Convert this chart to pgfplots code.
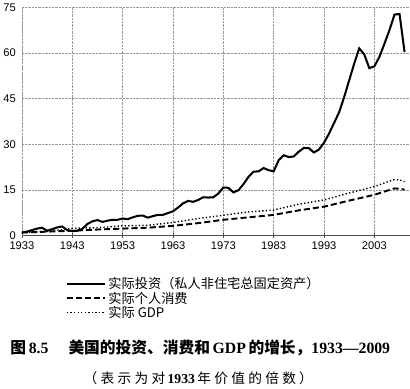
\documentclass[border=0pt]{standalone}
\usepackage{pgfplots}
\pgfplotsset{compat=1.18}
\usepackage{pgfplotstable}
\usepackage{fontspec}
\setmainfont{Liberation Sans}
\newfontfamily\cjk{Noto Sans CJK SC}
\newfontfamily\cjksp{Noto Sans CJK SC}[LetterSpace=24]
\newfontfamily\serifb{Liberation Serif}

\pgfplotstableread{
year val
1933 1.0
1934 1.3
1935 1.8
1936 2.3
1937 2.6
1938 1.6
1939 2.1
1940 2.7
1941 3.0
1942 1.8
1943 1.5
1944 1.6
1945 2.2
1946 3.8
1947 4.7
1948 5.1
1949 4.5
1950 4.9
1951 5.2
1952 5.2
1953 5.6
1954 5.4
1955 6.0
1956 6.5
1957 6.6
1958 5.9
1959 6.4
1960 6.8
1961 6.8
1962 7.4
1963 8.0
1964 9.2
1965 10.6
1966 11.4
1967 11.1
1968 11.7
1969 12.6
1970 12.5
1971 12.6
1972 13.8
1973 15.8
1974 15.7
1975 14.2
1976 14.9
1977 16.9
1978 19.3
1979 21.0
1980 21.1
1981 22.2
1982 21.5
1983 21.1
1984 24.8
1985 26.4
1986 25.8
1987 26.0
1988 27.6
1989 28.8
1990 28.7
1991 27.3
1992 28.3
1993 30.5
1994 33.5
1995 37.0
1996 40.5
1997 45.5
1998 51.0
1999 56.5
2000 61.5
2001 59.5
2002 55.0
2003 55.6
2004 58.7
2005 63.0
2006 67.5
2007 72.6
2008 72.8
2009 60.3
}\invest

\pgfplotstableread{
year val
1933 1.0
1938 1.3
1943 1.6
1948 2.0
1953 2.3
1958 2.6
1963 3.2
1968 4.1
1973 5.2
1978 6.0
1983 6.8
1988 8.3
1993 9.5
1998 11.5
2003 13.4
2006 15.0
2007 15.5
2008 15.4
2009 15.1
}\consum

\pgfplotstableread{
year val
1933 1.0
1938 1.4
1943 2.4
1948 2.6
1953 3.2
1958 3.4
1963 4.3
1968 5.6
1973 6.7
1978 7.8
1983 8.4
1988 10.3
1993 11.7
1998 14.0
2003 16.1
2006 17.9
2007 18.4
2008 18.3
2009 17.7
}\gdp

\begin{document}
\begin{tikzpicture}
\begin{axis}[
  scale only axis, width=382pt, height=225pt,
  xmin=1933, xmax=2010, ymin=0, ymax=75,
  xtick={1933,1943,1953,1963,1973,1983,1993,2003},
  ytick={0,15,30,45,60,75},
  /pgf/number format/1000 sep={},
  /pgf/number format/assume math mode=true,
  tick label style={font=\fontsize{11}{12}\selectfont, text=black},
  grid=major,
  major grid style={gray!80, densely dotted, line width=0.8pt},
  axis x line=bottom, axis y line=left,
  x axis line style={black!70, -, line width=0.7pt},
  y axis line style={gray!80, densely dotted, line width=0.8pt, -},
  xtick style={black!70, line width=0.7pt},
  ytick style={draw=none},
  tick align=center, major tick length=5pt,
  clip=false,
  legend style={at={(0.105,-0.165)}, anchor=north west, draw=none, fill=none,
    font=\cjk\fontsize{13}{14}\selectfont, row sep=-2.5pt},
  legend cell align=left,
  legend image code/.code={\draw[#1] (0pt,0pt) -- (38pt,0pt);},
]
\addplot[black, line width=2pt] table[x=year,y=val]{\invest};
\addlegendentry{实际投资（私人非住宅总固定资产）}
\addplot[black, line width=1.9pt, dash pattern=on 6pt off 3pt] table[x=year,y=val]{\consum};
\addlegendentry{实际个人消费}
\addplot[black, line width=1.4pt, dash pattern=on 1.3pt off 2.2pt] table[x=year,y=val]{\gdp};
\addlegendentry{实际 GDP}
\node[anchor=center, font=\fontsize{15.5}{17}\selectfont] at (rel axis cs:0.46,-0.49)
  {{\cjk\bfseries 图}\,{\serifb\bfseries 8.5}\quad\ {\cjk\bfseries 美国的投资、消费和}\,{\serifb\bfseries GDP}\,{\cjk\bfseries 的增长，}{\serifb\bfseries 1933—2009}};
\node[anchor=center, font=\fontsize{13.5}{14}\selectfont] at (rel axis cs:0.455,-0.625)
  {{\cjksp （表示为对}\,{\serifb\bfseries 1933}\,{\cjksp 年价值的倍数）}};
\end{axis}
\end{tikzpicture}
\end{document}
